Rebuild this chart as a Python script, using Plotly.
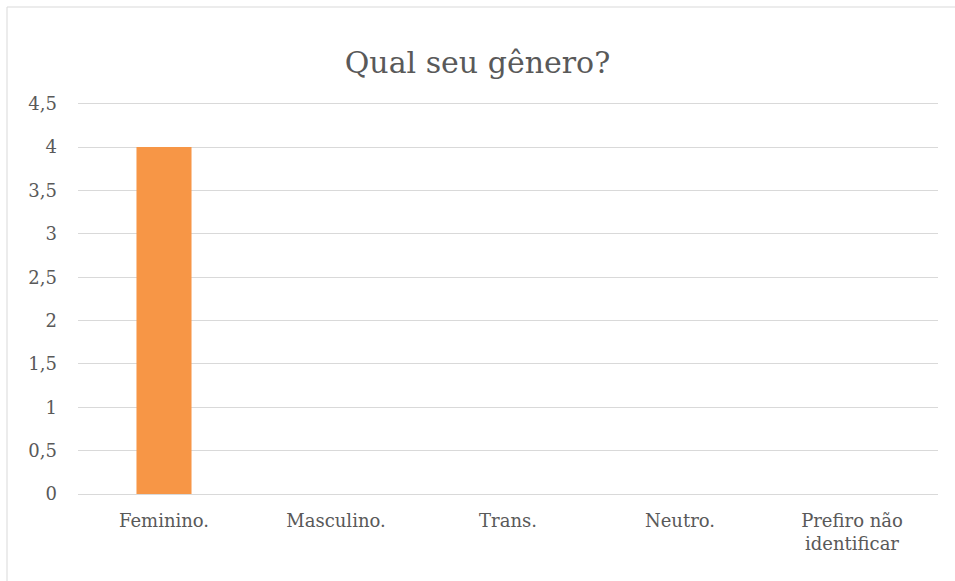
import plotly.graph_objects as go

categories = ["Feminino.", "Masculino.", "Trans.", "Neutro.", "Prefiro não<br>identificar"]
values = [4, 0, 0, 0, 0]
y_ticks = [0, 0.5, 1, 1.5, 2, 2.5, 3, 3.5, 4, 4.5]
y_tick_labels = ["0", "0,5", "1", "1,5", "2", "2,5", "3", "3,5", "4", "4,5"]

FONT = "DejaVu Serif"
TXT = "#595959"

fig = go.Figure(go.Bar(x=categories, y=values, marker=dict(color="#F79646", line=dict(width=0))))

L, R, T, B = 78, 17, 102, 87
W, H = 955, 581
pw, ph = W - L - R, H - T - B

fig.update_layout(
    width=W, height=H,
    margin=dict(l=L, r=R, t=T, b=B),
    paper_bgcolor="white", plot_bgcolor="white",
    bargap=0.68,
    showlegend=False,
    title=dict(text="Qual seu gênero?", x=0.5, xanchor="center", y=1 - 62 / H, yanchor="middle",
               font=dict(family=FONT, size=30, color=TXT)),
    font=dict(family=FONT, size=18, color=TXT),
    xaxis=dict(showgrid=False, showline=True, linecolor="#D9D9D9", linewidth=1, ticks="",
               tickfont=dict(family=FONT, size=18, color=TXT), ticklabelstandoff=10,
               fixedrange=True),
    yaxis=dict(range=[0, 4.52], tickvals=y_ticks, ticktext=y_tick_labels, showgrid=True,
               gridcolor="#D9D9D9", gridwidth=1, zeroline=False, showline=False, ticks="",
               tickfont=dict(family=FONT, size=18, color=TXT), ticklabelstandoff=20,
               fixedrange=True),
    shapes=[dict(type="rect", xref="paper", yref="paper",
                 x0=(7 - L) / pw, x1=(956 - L) / pw,
                 y0=(H - T - 600) / ph, y1=1 + (T - 7) / ph,
                 line=dict(color="#D9D9D9", width=1), layer="below")],
)

fig.write_html("out.html", config={"displayModeBar": False},
               post_script="document.body.style.margin='0';")
